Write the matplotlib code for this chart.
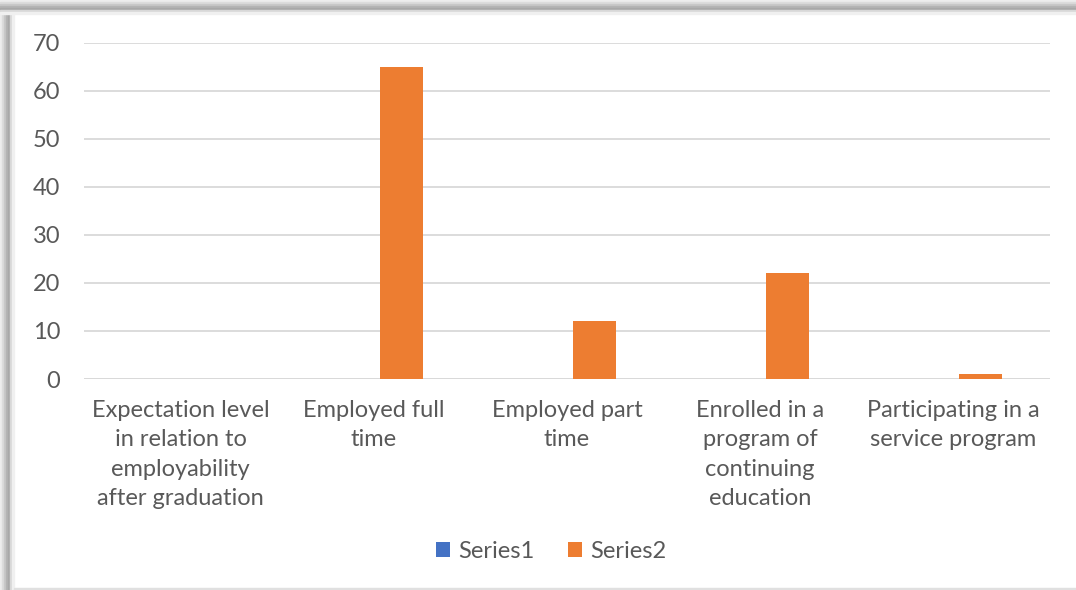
import matplotlib.pyplot as plt
import matplotlib.patches as mpatches
import numpy as np

# data
categories = ["Expectation level\nin relation to\nemployability\nafter graduation",
              "Employed full\ntime",
              "Employed part\ntime",
              "Enrolled in a\nprogram of\ncontinuing\neducation",
              "Participating in a\nservice program"]
series1 = [0, 0, 0, 0, 0]
series2 = [0, 65, 12, 22, 1]
yticks = [0, 10, 20, 30, 40, 50, 60, 70]

plt.rcParams['font.family'] = ['Lato', 'DejaVu Sans']
txt = '#595959'
fs = 17

fig = plt.figure(figsize=(10.76, 5.9), dpi=100)
W, H = 1076, 590

# shadow frame top / left
for i, c in enumerate(['#ededed', '#dcdcdc', '#c8c8c8', '#b4b4b4', '#a8a8a8', '#d8d8d8', '#f0f0f0']):
    fig.patches.append(mpatches.Rectangle((0, 1 - (i + 1) * 2 / H), 1, 2 / H,
                                          transform=fig.transFigure, color=c, zorder=0))
    fig.patches.append(mpatches.Rectangle((i * 2 / W, 0), 2 / W, 1 - 14 / H,
                                          transform=fig.transFigure, color=c, zorder=0))
fig.patches.append(mpatches.Rectangle((14 / W, 0), 1, 2 / H, transform=fig.transFigure,
                                      color='#e0e0e0', zorder=0))

ax = fig.add_axes([84 / W, 1 - 379 / H, (1050 - 84) / W, (379 - 42.5) / H])
x = np.arange(len(categories))
w = 0.222
off = 0.142
ax.bar(x - off, series1, w, color='#4472C4', label='Series1', zorder=3)
ax.bar(x + off, series2, w, color='#ED7D31', label='Series2', zorder=3)

ax.set_xlim(-0.5, len(categories) - 0.5)
ax.set_ylim(0, 70)
ax.set_yticks(yticks)
ax.grid(axis='y', color='#d9d9d9', linewidth=1.3, zorder=0)
for s in ax.spines.values():
    s.set_visible(False)
ax.tick_params(axis='both', length=0, labelsize=fs, labelcolor=txt)
ax.tick_params(axis='y', pad=17)
ax.set_xticks(x)
ax.set_xticklabels(categories, linespacing=1.5)
ax.tick_params(axis='x', pad=15)
ax.axhline(0, color='#d9d9d9', linewidth=1.3, zorder=2)

leg = fig.legend(loc='center', bbox_to_anchor=(551 / W, 1 - 551 / H), ncol=2, frameon=False,
                 fontsize=fs, handlelength=0.6, handleheight=0.6, handletextpad=0.35,
                 columnspacing=1.4)
for t in leg.get_texts():
    t.set_color(txt)

fig.savefig('out.png', dpi=100)
